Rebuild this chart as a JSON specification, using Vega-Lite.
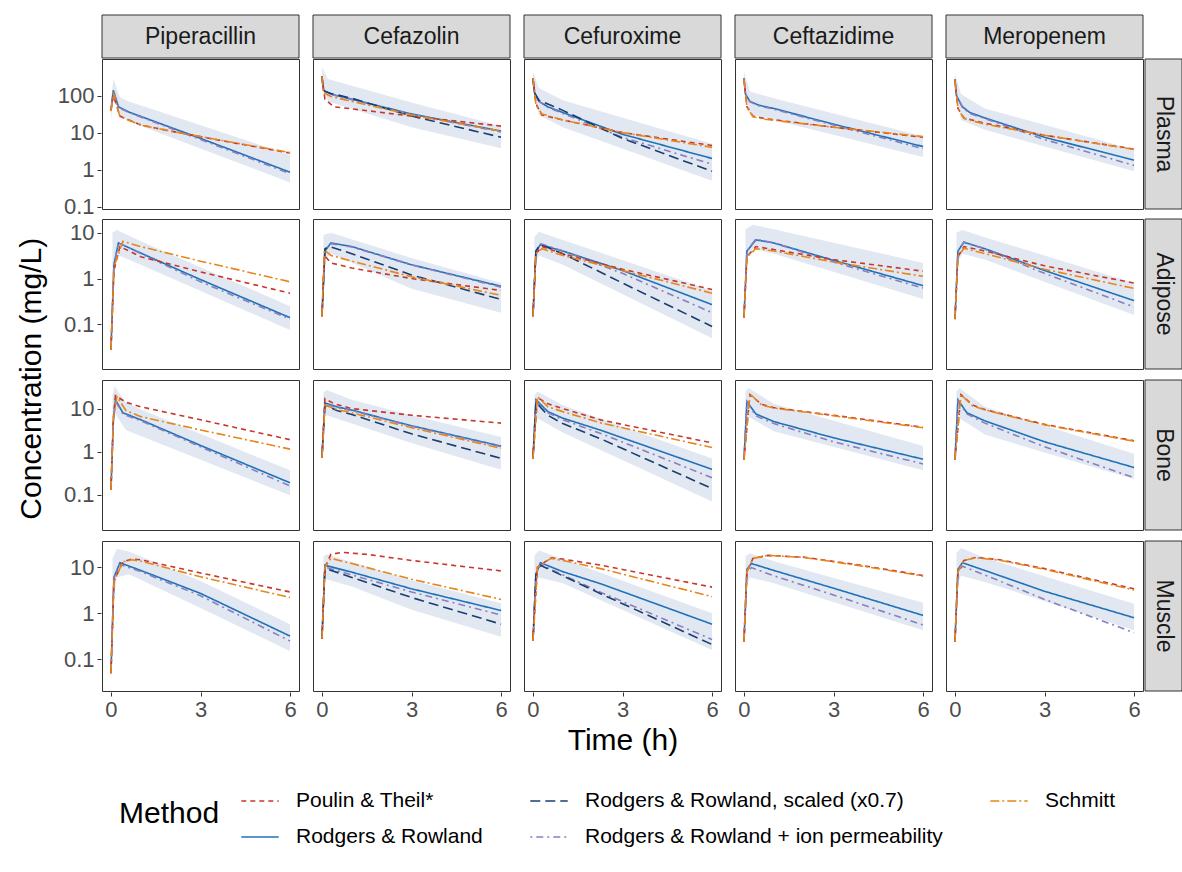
{
"$schema":"https://vega.github.io/schema/vega-lite/v6.json",
"background":"white",
"padding":{"left":17,"top":14,"right":2,"bottom":4},
"title":{"text":"Concentration (mg/L)","orient":"left","anchor":"middle","fontSize":30,"fontWeight":"normal","color":"#000000","offset":10,"dx":52},
"config":{
 "font":"Liberation Sans",
 "view":{"stroke":"#333333","strokeWidth":1},
 "axis":{"grid":false,"domain":false,"ticks":true,"tickColor":"#333333","tickSize":4,"tickWidth":1,"labelColor":"#4d4d4d","labelFontSize":22,"labelPadding":3,"titleFontSize":30,"titleFontWeight":"normal","titleColor":"#000000"},
 "legend":{"orient":"none","legendX":17,"legendY":766,"direction":"horizontal","columns":3,"titleOrient":"left","titleAnchor":"middle","titleFontSize":30,"titleFontWeight":"normal","titleColor":"#000000","titlePadding":20,"labelFontSize":21,"labelLimit":600,"labelColor":"#000000","symbolType":"stroke","symbolSize":1400,"symbolStrokeWidth":1.6,"columnPadding":44,"rowPadding":6,"labelOffset":16}
},
"datasets":{"c":[
{"d":"Pip","t":"Pl","m":"R","x":0,"y":40},{"d":"Pip","t":"Pl","m":"R","x":0.08,"y":140},{"d":"Pip","t":"Pl","m":"R","x":0.25,"y":50},{"d":"Pip","t":"Pl","m":"R","x":0.6,"y":36},{"d":"Pip","t":"Pl","m":"R","x":3,"y":7},{"d":"Pip","t":"Pl","m":"R","x":6,"y":0.85},
{"d":"Pip","t":"Pl","m":"I","x":0,"y":40},{"d":"Pip","t":"Pl","m":"I","x":0.08,"y":135},{"d":"Pip","t":"Pl","m":"I","x":0.25,"y":48},{"d":"Pip","t":"Pl","m":"I","x":0.6,"y":35},{"d":"Pip","t":"Pl","m":"I","x":3,"y":6.5},{"d":"Pip","t":"Pl","m":"I","x":6,"y":0.78},
{"d":"Pip","t":"Pl","m":"P","x":0,"y":40},{"d":"Pip","t":"Pl","m":"P","x":0.08,"y":100},{"d":"Pip","t":"Pl","m":"P","x":0.3,"y":28},{"d":"Pip","t":"Pl","m":"P","x":1,"y":16},{"d":"Pip","t":"Pl","m":"P","x":2,"y":11},{"d":"Pip","t":"Pl","m":"P","x":4,"y":5.5},{"d":"Pip","t":"Pl","m":"P","x":6,"y":2.8},
{"d":"Pip","t":"Pl","m":"M","x":0,"y":38},{"d":"Pip","t":"Pl","m":"M","x":0.08,"y":120},{"d":"Pip","t":"Pl","m":"M","x":0.3,"y":27},{"d":"Pip","t":"Pl","m":"M","x":1,"y":16},{"d":"Pip","t":"Pl","m":"M","x":2,"y":11},{"d":"Pip","t":"Pl","m":"M","x":4,"y":5.6},{"d":"Pip","t":"Pl","m":"M","x":6,"y":2.9},
{"d":"Pip","t":"Pl","m":"B","x":0,"lo":20,"hi":70},{"d":"Pip","t":"Pl","m":"B","x":0.08,"lo":100,"hi":280},{"d":"Pip","t":"Pl","m":"B","x":0.3,"lo":28,"hi":90},{"d":"Pip","t":"Pl","m":"B","x":0.6,"lo":20,"hi":70},{"d":"Pip","t":"Pl","m":"B","x":6,"lo":0.45,"hi":2.5},

{"d":"Cfz","t":"Pl","m":"R","x":0,"y":330},{"d":"Cfz","t":"Pl","m":"R","x":0.05,"y":140},{"d":"Cfz","t":"Pl","m":"R","x":0.3,"y":110},{"d":"Cfz","t":"Pl","m":"R","x":1,"y":80},{"d":"Cfz","t":"Pl","m":"R","x":3,"y":32},{"d":"Cfz","t":"Pl","m":"R","x":6,"y":11},
{"d":"Cfz","t":"Pl","m":"I","x":0,"y":330},{"d":"Cfz","t":"Pl","m":"I","x":0.05,"y":138},{"d":"Cfz","t":"Pl","m":"I","x":0.3,"y":108},{"d":"Cfz","t":"Pl","m":"I","x":1,"y":78},{"d":"Cfz","t":"Pl","m":"I","x":3,"y":31},{"d":"Cfz","t":"Pl","m":"I","x":6,"y":10.5},
{"d":"Cfz","t":"Pl","m":"S","x":0,"y":330},{"d":"Cfz","t":"Pl","m":"S","x":0.05,"y":135},{"d":"Cfz","t":"Pl","m":"S","x":0.3,"y":115},{"d":"Cfz","t":"Pl","m":"S","x":1,"y":85},{"d":"Cfz","t":"Pl","m":"S","x":3,"y":28},{"d":"Cfz","t":"Pl","m":"S","x":6,"y":7.5},
{"d":"Cfz","t":"Pl","m":"P","x":0,"y":330},{"d":"Cfz","t":"Pl","m":"P","x":0.1,"y":80},{"d":"Cfz","t":"Pl","m":"P","x":0.4,"y":50},{"d":"Cfz","t":"Pl","m":"P","x":1,"y":44},{"d":"Cfz","t":"Pl","m":"P","x":3,"y":28},{"d":"Cfz","t":"Pl","m":"P","x":6,"y":15},
{"d":"Cfz","t":"Pl","m":"M","x":0,"y":330},{"d":"Cfz","t":"Pl","m":"M","x":0.05,"y":120},{"d":"Cfz","t":"Pl","m":"M","x":0.3,"y":95},{"d":"Cfz","t":"Pl","m":"M","x":1,"y":70},{"d":"Cfz","t":"Pl","m":"M","x":3,"y":30},{"d":"Cfz","t":"Pl","m":"M","x":6,"y":11},
{"d":"Cfz","t":"Pl","m":"B","x":0,"lo":200,"hi":600},{"d":"Cfz","t":"Pl","m":"B","x":0.2,"lo":70,"hi":280},{"d":"Cfz","t":"Pl","m":"B","x":3,"lo":14,"hi":65},{"d":"Cfz","t":"Pl","m":"B","x":6,"lo":3.8,"hi":15},

{"d":"Cfx","t":"Pl","m":"R","x":0,"y":300},{"d":"Cfx","t":"Pl","m":"R","x":0.05,"y":120},{"d":"Cfx","t":"Pl","m":"R","x":0.2,"y":70},{"d":"Cfx","t":"Pl","m":"R","x":0.5,"y":50},{"d":"Cfx","t":"Pl","m":"R","x":1,"y":35},{"d":"Cfx","t":"Pl","m":"R","x":3,"y":9},{"d":"Cfx","t":"Pl","m":"R","x":6,"y":2.0},
{"d":"Cfx","t":"Pl","m":"I","x":0,"y":300},{"d":"Cfx","t":"Pl","m":"I","x":0.05,"y":120},{"d":"Cfx","t":"Pl","m":"I","x":0.2,"y":70},{"d":"Cfx","t":"Pl","m":"I","x":0.5,"y":48},{"d":"Cfx","t":"Pl","m":"I","x":1,"y":33},{"d":"Cfx","t":"Pl","m":"I","x":3,"y":7.5},{"d":"Cfx","t":"Pl","m":"I","x":6,"y":1.4},
{"d":"Cfx","t":"Pl","m":"S","x":0,"y":300},{"d":"Cfx","t":"Pl","m":"S","x":0.05,"y":120},{"d":"Cfx","t":"Pl","m":"S","x":0.2,"y":75},{"d":"Cfx","t":"Pl","m":"S","x":0.6,"y":55},{"d":"Cfx","t":"Pl","m":"S","x":1,"y":40},{"d":"Cfx","t":"Pl","m":"S","x":3,"y":7},{"d":"Cfx","t":"Pl","m":"S","x":6,"y":0.9},
{"d":"Cfx","t":"Pl","m":"P","x":0,"y":300},{"d":"Cfx","t":"Pl","m":"P","x":0.1,"y":60},{"d":"Cfx","t":"Pl","m":"P","x":0.3,"y":30},{"d":"Cfx","t":"Pl","m":"P","x":1,"y":22},{"d":"Cfx","t":"Pl","m":"P","x":3,"y":10},{"d":"Cfx","t":"Pl","m":"P","x":6,"y":4.5},
{"d":"Cfx","t":"Pl","m":"M","x":0,"y":300},{"d":"Cfx","t":"Pl","m":"M","x":0.1,"y":55},{"d":"Cfx","t":"Pl","m":"M","x":0.3,"y":32},{"d":"Cfx","t":"Pl","m":"M","x":1,"y":22},{"d":"Cfx","t":"Pl","m":"M","x":3,"y":10},{"d":"Cfx","t":"Pl","m":"M","x":6,"y":4.0},
{"d":"Cfx","t":"Pl","m":"B","x":0,"lo":150,"hi":450},{"d":"Cfx","t":"Pl","m":"B","x":0.2,"lo":30,"hi":160},{"d":"Cfx","t":"Pl","m":"B","x":1,"lo":14,"hi":75},{"d":"Cfx","t":"Pl","m":"B","x":6,"lo":0.5,"hi":5},

{"d":"Ctz","t":"Pl","m":"R","x":0,"y":300},{"d":"Ctz","t":"Pl","m":"R","x":0.05,"y":110},{"d":"Ctz","t":"Pl","m":"R","x":0.2,"y":70},{"d":"Ctz","t":"Pl","m":"R","x":0.5,"y":55},{"d":"Ctz","t":"Pl","m":"R","x":1,"y":45},{"d":"Ctz","t":"Pl","m":"R","x":3,"y":17},{"d":"Ctz","t":"Pl","m":"R","x":6,"y":4.2},
{"d":"Ctz","t":"Pl","m":"I","x":0,"y":300},{"d":"Ctz","t":"Pl","m":"I","x":0.05,"y":110},{"d":"Ctz","t":"Pl","m":"I","x":0.2,"y":68},{"d":"Ctz","t":"Pl","m":"I","x":0.5,"y":53},{"d":"Ctz","t":"Pl","m":"I","x":1,"y":43},{"d":"Ctz","t":"Pl","m":"I","x":3,"y":16},{"d":"Ctz","t":"Pl","m":"I","x":6,"y":3.7},
{"d":"Ctz","t":"Pl","m":"P","x":0,"y":280},{"d":"Ctz","t":"Pl","m":"P","x":0.1,"y":50},{"d":"Ctz","t":"Pl","m":"P","x":0.3,"y":28},{"d":"Ctz","t":"Pl","m":"P","x":0.7,"y":24},{"d":"Ctz","t":"Pl","m":"P","x":3,"y":14},{"d":"Ctz","t":"Pl","m":"P","x":6,"y":7.5},
{"d":"Ctz","t":"Pl","m":"M","x":0,"y":280},{"d":"Ctz","t":"Pl","m":"M","x":0.1,"y":50},{"d":"Ctz","t":"Pl","m":"M","x":0.3,"y":27},{"d":"Ctz","t":"Pl","m":"M","x":0.7,"y":23},{"d":"Ctz","t":"Pl","m":"M","x":3,"y":14},{"d":"Ctz","t":"Pl","m":"M","x":6,"y":7.8},
{"d":"Ctz","t":"Pl","m":"B","x":0,"lo":180,"hi":450},{"d":"Ctz","t":"Pl","m":"B","x":0.2,"lo":32,"hi":130},{"d":"Ctz","t":"Pl","m":"B","x":1,"lo":22,"hi":85},{"d":"Ctz","t":"Pl","m":"B","x":6,"lo":2.2,"hi":8},

{"d":"Mer","t":"Pl","m":"R","x":0,"y":280},{"d":"Mer","t":"Pl","m":"R","x":0.05,"y":100},{"d":"Mer","t":"Pl","m":"R","x":0.25,"y":50},{"d":"Mer","t":"Pl","m":"R","x":0.5,"y":35},{"d":"Mer","t":"Pl","m":"R","x":1,"y":25},{"d":"Mer","t":"Pl","m":"R","x":3,"y":7.5},{"d":"Mer","t":"Pl","m":"R","x":6,"y":1.8},
{"d":"Mer","t":"Pl","m":"I","x":0,"y":280},{"d":"Mer","t":"Pl","m":"I","x":0.05,"y":100},{"d":"Mer","t":"Pl","m":"I","x":0.25,"y":48},{"d":"Mer","t":"Pl","m":"I","x":0.5,"y":33},{"d":"Mer","t":"Pl","m":"I","x":1,"y":24},{"d":"Mer","t":"Pl","m":"I","x":3,"y":6.5},{"d":"Mer","t":"Pl","m":"I","x":6,"y":1.3},
{"d":"Mer","t":"Pl","m":"P","x":0,"y":260},{"d":"Mer","t":"Pl","m":"P","x":0.1,"y":45},{"d":"Mer","t":"Pl","m":"P","x":0.3,"y":25},{"d":"Mer","t":"Pl","m":"P","x":1,"y":18},{"d":"Mer","t":"Pl","m":"P","x":3,"y":8.5},{"d":"Mer","t":"Pl","m":"P","x":6,"y":3.6},
{"d":"Mer","t":"Pl","m":"M","x":0,"y":260},{"d":"Mer","t":"Pl","m":"M","x":0.1,"y":45},{"d":"Mer","t":"Pl","m":"M","x":0.3,"y":24},{"d":"Mer","t":"Pl","m":"M","x":1,"y":17},{"d":"Mer","t":"Pl","m":"M","x":3,"y":8.5},{"d":"Mer","t":"Pl","m":"M","x":6,"y":3.5},
{"d":"Mer","t":"Pl","m":"B","x":0,"lo":150,"hi":400},{"d":"Mer","t":"Pl","m":"B","x":0.2,"lo":22,"hi":110},{"d":"Mer","t":"Pl","m":"B","x":1,"lo":12,"hi":45},{"d":"Mer","t":"Pl","m":"B","x":6,"lo":0.9,"hi":3.5},

{"d":"Pip","t":"Ad","m":"R","x":0,"y":0.028},{"d":"Pip","t":"Ad","m":"R","x":0.1,"y":2},{"d":"Pip","t":"Ad","m":"R","x":0.25,"y":6},{"d":"Pip","t":"Ad","m":"R","x":1,"y":3.6},{"d":"Pip","t":"Ad","m":"R","x":3,"y":0.95},{"d":"Pip","t":"Ad","m":"R","x":6,"y":0.14},
{"d":"Pip","t":"Ad","m":"I","x":0,"y":0.028},{"d":"Pip","t":"Ad","m":"I","x":0.1,"y":2},{"d":"Pip","t":"Ad","m":"I","x":0.25,"y":6},{"d":"Pip","t":"Ad","m":"I","x":1,"y":3.5},{"d":"Pip","t":"Ad","m":"I","x":3,"y":0.85},{"d":"Pip","t":"Ad","m":"I","x":6,"y":0.13},
{"d":"Pip","t":"Ad","m":"P","x":0,"y":0.028},{"d":"Pip","t":"Ad","m":"P","x":0.1,"y":1.5},{"d":"Pip","t":"Ad","m":"P","x":0.3,"y":5},{"d":"Pip","t":"Ad","m":"P","x":1,"y":3},{"d":"Pip","t":"Ad","m":"P","x":3,"y":1.4},{"d":"Pip","t":"Ad","m":"P","x":6,"y":0.48},
{"d":"Pip","t":"Ad","m":"M","x":0,"y":0.028},{"d":"Pip","t":"Ad","m":"M","x":0.1,"y":1.8},{"d":"Pip","t":"Ad","m":"M","x":0.4,"y":6.5},{"d":"Pip","t":"Ad","m":"M","x":1,"y":5},{"d":"Pip","t":"Ad","m":"M","x":3,"y":2.4},{"d":"Pip","t":"Ad","m":"M","x":6,"y":0.85},
{"d":"Pip","t":"Ad","m":"B","x":0.05,"lo":1.2,"hi":10},{"d":"Pip","t":"Ad","m":"B","x":0.2,"lo":3.3,"hi":11.5},{"d":"Pip","t":"Ad","m":"B","x":1,"lo":2,"hi":6.5},{"d":"Pip","t":"Ad","m":"B","x":6,"lo":0.075,"hi":0.25},

{"d":"Cfz","t":"Ad","m":"R","x":0,"y":0.15},{"d":"Cfz","t":"Ad","m":"R","x":0.1,"y":4},{"d":"Cfz","t":"Ad","m":"R","x":0.3,"y":6},{"d":"Cfz","t":"Ad","m":"R","x":1,"y":5},{"d":"Cfz","t":"Ad","m":"R","x":3,"y":2},{"d":"Cfz","t":"Ad","m":"R","x":6,"y":0.68},
{"d":"Cfz","t":"Ad","m":"I","x":0,"y":0.15},{"d":"Cfz","t":"Ad","m":"I","x":0.1,"y":4},{"d":"Cfz","t":"Ad","m":"I","x":0.3,"y":5.8},{"d":"Cfz","t":"Ad","m":"I","x":1,"y":4.9},{"d":"Cfz","t":"Ad","m":"I","x":3,"y":2},{"d":"Cfz","t":"Ad","m":"I","x":6,"y":0.65},
{"d":"Cfz","t":"Ad","m":"S","x":0,"y":0.15},{"d":"Cfz","t":"Ad","m":"S","x":0.1,"y":4.5},{"d":"Cfz","t":"Ad","m":"S","x":0.25,"y":5},{"d":"Cfz","t":"Ad","m":"S","x":1,"y":3.5},{"d":"Cfz","t":"Ad","m":"S","x":3,"y":1.2},{"d":"Cfz","t":"Ad","m":"S","x":6,"y":0.35},
{"d":"Cfz","t":"Ad","m":"P","x":0,"y":0.15},{"d":"Cfz","t":"Ad","m":"P","x":0.08,"y":3.2},{"d":"Cfz","t":"Ad","m":"P","x":0.3,"y":2.2},{"d":"Cfz","t":"Ad","m":"P","x":1,"y":1.7},{"d":"Cfz","t":"Ad","m":"P","x":3,"y":1.0},{"d":"Cfz","t":"Ad","m":"P","x":6,"y":0.55},
{"d":"Cfz","t":"Ad","m":"M","x":0,"y":0.15},{"d":"Cfz","t":"Ad","m":"M","x":0.08,"y":4.2},{"d":"Cfz","t":"Ad","m":"M","x":0.3,"y":3.2},{"d":"Cfz","t":"Ad","m":"M","x":1,"y":2.4},{"d":"Cfz","t":"Ad","m":"M","x":3,"y":1.1},{"d":"Cfz","t":"Ad","m":"M","x":6,"y":0.43},
{"d":"Cfz","t":"Ad","m":"B","x":0.05,"lo":2.5,"hi":9},{"d":"Cfz","t":"Ad","m":"B","x":0.3,"lo":3.5,"hi":10},{"d":"Cfz","t":"Ad","m":"B","x":3,"lo":0.6,"hi":2.8},{"d":"Cfz","t":"Ad","m":"B","x":6,"lo":0.18,"hi":0.8},

{"d":"Cfx","t":"Ad","m":"R","x":0,"y":0.15},{"d":"Cfx","t":"Ad","m":"R","x":0.1,"y":4},{"d":"Cfx","t":"Ad","m":"R","x":0.25,"y":5.5},{"d":"Cfx","t":"Ad","m":"R","x":1,"y":4},{"d":"Cfx","t":"Ad","m":"R","x":3,"y":1.5},{"d":"Cfx","t":"Ad","m":"R","x":6,"y":0.27},
{"d":"Cfx","t":"Ad","m":"I","x":0,"y":0.15},{"d":"Cfx","t":"Ad","m":"I","x":0.1,"y":4},{"d":"Cfx","t":"Ad","m":"I","x":0.25,"y":5.8},{"d":"Cfx","t":"Ad","m":"I","x":1,"y":4},{"d":"Cfx","t":"Ad","m":"I","x":3,"y":1.3},{"d":"Cfx","t":"Ad","m":"I","x":6,"y":0.18},
{"d":"Cfx","t":"Ad","m":"S","x":0,"y":0.15},{"d":"Cfx","t":"Ad","m":"S","x":0.1,"y":4},{"d":"Cfx","t":"Ad","m":"S","x":0.25,"y":5.5},{"d":"Cfx","t":"Ad","m":"S","x":1,"y":3.5},{"d":"Cfx","t":"Ad","m":"S","x":3,"y":0.8},{"d":"Cfx","t":"Ad","m":"S","x":6,"y":0.09},
{"d":"Cfx","t":"Ad","m":"P","x":0,"y":0.15},{"d":"Cfx","t":"Ad","m":"P","x":0.1,"y":3.5},{"d":"Cfx","t":"Ad","m":"P","x":0.3,"y":5},{"d":"Cfx","t":"Ad","m":"P","x":1,"y":3.5},{"d":"Cfx","t":"Ad","m":"P","x":3,"y":1.6},{"d":"Cfx","t":"Ad","m":"P","x":6,"y":0.58},
{"d":"Cfx","t":"Ad","m":"M","x":0,"y":0.15},{"d":"Cfx","t":"Ad","m":"M","x":0.1,"y":3.5},{"d":"Cfx","t":"Ad","m":"M","x":0.3,"y":4.5},{"d":"Cfx","t":"Ad","m":"M","x":1,"y":3.2},{"d":"Cfx","t":"Ad","m":"M","x":3,"y":1.5},{"d":"Cfx","t":"Ad","m":"M","x":6,"y":0.48},
{"d":"Cfx","t":"Ad","m":"B","x":0.05,"lo":2,"hi":8},{"d":"Cfx","t":"Ad","m":"B","x":0.2,"lo":3.2,"hi":10.5},{"d":"Cfx","t":"Ad","m":"B","x":1,"lo":2,"hi":7},{"d":"Cfx","t":"Ad","m":"B","x":6,"lo":0.05,"hi":0.55},

{"d":"Ctz","t":"Ad","m":"R","x":0,"y":0.14},{"d":"Ctz","t":"Ad","m":"R","x":0.1,"y":4},{"d":"Ctz","t":"Ad","m":"R","x":0.4,"y":7},{"d":"Ctz","t":"Ad","m":"R","x":1,"y":6},{"d":"Ctz","t":"Ad","m":"R","x":3,"y":2.5},{"d":"Ctz","t":"Ad","m":"R","x":6,"y":0.7},
{"d":"Ctz","t":"Ad","m":"I","x":0,"y":0.14},{"d":"Ctz","t":"Ad","m":"I","x":0.1,"y":4},{"d":"Ctz","t":"Ad","m":"I","x":0.4,"y":7.3},{"d":"Ctz","t":"Ad","m":"I","x":1,"y":6},{"d":"Ctz","t":"Ad","m":"I","x":3,"y":2.3},{"d":"Ctz","t":"Ad","m":"I","x":6,"y":0.62},
{"d":"Ctz","t":"Ad","m":"P","x":0,"y":0.14},{"d":"Ctz","t":"Ad","m":"P","x":0.1,"y":3},{"d":"Ctz","t":"Ad","m":"P","x":0.4,"y":5},{"d":"Ctz","t":"Ad","m":"P","x":1,"y":4.3},{"d":"Ctz","t":"Ad","m":"P","x":3,"y":2.6},{"d":"Ctz","t":"Ad","m":"P","x":6,"y":1.45},
{"d":"Ctz","t":"Ad","m":"M","x":0,"y":0.14},{"d":"Ctz","t":"Ad","m":"M","x":0.1,"y":3},{"d":"Ctz","t":"Ad","m":"M","x":0.4,"y":4.5},{"d":"Ctz","t":"Ad","m":"M","x":1,"y":4},{"d":"Ctz","t":"Ad","m":"M","x":3,"y":2.3},{"d":"Ctz","t":"Ad","m":"M","x":6,"y":1.12},
{"d":"Ctz","t":"Ad","m":"B","x":0.05,"lo":2.5,"hi":12},{"d":"Ctz","t":"Ad","m":"B","x":0.3,"lo":4.5,"hi":15},{"d":"Ctz","t":"Ad","m":"B","x":1,"lo":3.5,"hi":12},{"d":"Ctz","t":"Ad","m":"B","x":6,"lo":0.36,"hi":2.2},

{"d":"Mer","t":"Ad","m":"R","x":0,"y":0.13},{"d":"Mer","t":"Ad","m":"R","x":0.1,"y":4},{"d":"Mer","t":"Ad","m":"R","x":0.3,"y":6.2},{"d":"Mer","t":"Ad","m":"R","x":1,"y":4.5},{"d":"Mer","t":"Ad","m":"R","x":3,"y":1.5},{"d":"Mer","t":"Ad","m":"R","x":6,"y":0.33},
{"d":"Mer","t":"Ad","m":"I","x":0,"y":0.13},{"d":"Mer","t":"Ad","m":"I","x":0.1,"y":4},{"d":"Mer","t":"Ad","m":"I","x":0.3,"y":6.3},{"d":"Mer","t":"Ad","m":"I","x":1,"y":4.4},{"d":"Mer","t":"Ad","m":"I","x":3,"y":1.3},{"d":"Mer","t":"Ad","m":"I","x":6,"y":0.24},
{"d":"Mer","t":"Ad","m":"P","x":0,"y":0.13},{"d":"Mer","t":"Ad","m":"P","x":0.1,"y":3},{"d":"Mer","t":"Ad","m":"P","x":0.3,"y":5},{"d":"Mer","t":"Ad","m":"P","x":1,"y":4},{"d":"Mer","t":"Ad","m":"P","x":3,"y":1.9},{"d":"Mer","t":"Ad","m":"P","x":6,"y":0.8},
{"d":"Mer","t":"Ad","m":"M","x":0,"y":0.13},{"d":"Mer","t":"Ad","m":"M","x":0.1,"y":3},{"d":"Mer","t":"Ad","m":"M","x":0.3,"y":4.6},{"d":"Mer","t":"Ad","m":"M","x":1,"y":3.5},{"d":"Mer","t":"Ad","m":"M","x":3,"y":1.6},{"d":"Mer","t":"Ad","m":"M","x":6,"y":0.61},
{"d":"Mer","t":"Ad","m":"B","x":0.05,"lo":2,"hi":10},{"d":"Mer","t":"Ad","m":"B","x":0.25,"lo":3.5,"hi":11.5},{"d":"Mer","t":"Ad","m":"B","x":1,"lo":2.6,"hi":8},{"d":"Mer","t":"Ad","m":"B","x":6,"lo":0.16,"hi":0.8},

{"d":"Pip","t":"Bo","m":"R","x":0,"y":0.13},{"d":"Pip","t":"Bo","m":"R","x":0.08,"y":5},{"d":"Pip","t":"Bo","m":"R","x":0.15,"y":16},{"d":"Pip","t":"Bo","m":"R","x":0.4,"y":8},{"d":"Pip","t":"Bo","m":"R","x":1,"y":5.5},{"d":"Pip","t":"Bo","m":"R","x":3,"y":1.4},{"d":"Pip","t":"Bo","m":"R","x":6,"y":0.19},
{"d":"Pip","t":"Bo","m":"I","x":0,"y":0.13},{"d":"Pip","t":"Bo","m":"I","x":0.08,"y":5},{"d":"Pip","t":"Bo","m":"I","x":0.15,"y":15},{"d":"Pip","t":"Bo","m":"I","x":0.4,"y":7.5},{"d":"Pip","t":"Bo","m":"I","x":1,"y":5.2},{"d":"Pip","t":"Bo","m":"I","x":3,"y":1.3},{"d":"Pip","t":"Bo","m":"I","x":6,"y":0.16},
{"d":"Pip","t":"Bo","m":"P","x":0,"y":0.13},{"d":"Pip","t":"Bo","m":"P","x":0.08,"y":6},{"d":"Pip","t":"Bo","m":"P","x":0.15,"y":20},{"d":"Pip","t":"Bo","m":"P","x":0.5,"y":14},{"d":"Pip","t":"Bo","m":"P","x":1,"y":11},{"d":"Pip","t":"Bo","m":"P","x":3,"y":5.5},{"d":"Pip","t":"Bo","m":"P","x":6,"y":1.9},
{"d":"Pip","t":"Bo","m":"M","x":0,"y":0.13},{"d":"Pip","t":"Bo","m":"M","x":0.08,"y":6},{"d":"Pip","t":"Bo","m":"M","x":0.2,"y":19},{"d":"Pip","t":"Bo","m":"M","x":0.5,"y":9},{"d":"Pip","t":"Bo","m":"M","x":1,"y":6.5},{"d":"Pip","t":"Bo","m":"M","x":3,"y":3.2},{"d":"Pip","t":"Bo","m":"M","x":6,"y":1.15},
{"d":"Pip","t":"Bo","m":"B","x":0.05,"lo":2,"hi":20},{"d":"Pip","t":"Bo","m":"B","x":0.12,"lo":8,"hi":33},{"d":"Pip","t":"Bo","m":"B","x":0.5,"lo":3.2,"hi":14},{"d":"Pip","t":"Bo","m":"B","x":1,"lo":2.3,"hi":9.5},{"d":"Pip","t":"Bo","m":"B","x":6,"lo":0.098,"hi":0.37},

{"d":"Cfz","t":"Bo","m":"R","x":0,"y":0.74},{"d":"Cfz","t":"Bo","m":"R","x":0.1,"y":13.5},{"d":"Cfz","t":"Bo","m":"R","x":0.5,"y":11},{"d":"Cfz","t":"Bo","m":"R","x":1,"y":9.2},{"d":"Cfz","t":"Bo","m":"R","x":3,"y":4},{"d":"Cfz","t":"Bo","m":"R","x":6,"y":1.35},
{"d":"Cfz","t":"Bo","m":"I","x":0,"y":0.74},{"d":"Cfz","t":"Bo","m":"I","x":0.1,"y":13},{"d":"Cfz","t":"Bo","m":"I","x":0.5,"y":10.5},{"d":"Cfz","t":"Bo","m":"I","x":1,"y":9},{"d":"Cfz","t":"Bo","m":"I","x":3,"y":3.9},{"d":"Cfz","t":"Bo","m":"I","x":6,"y":1.3},
{"d":"Cfz","t":"Bo","m":"S","x":0,"y":0.74},{"d":"Cfz","t":"Bo","m":"S","x":0.1,"y":12},{"d":"Cfz","t":"Bo","m":"S","x":0.5,"y":9},{"d":"Cfz","t":"Bo","m":"S","x":1,"y":7.3},{"d":"Cfz","t":"Bo","m":"S","x":3,"y":2.6},{"d":"Cfz","t":"Bo","m":"S","x":6,"y":0.7},
{"d":"Cfz","t":"Bo","m":"P","x":0,"y":0.74},{"d":"Cfz","t":"Bo","m":"P","x":0.1,"y":17},{"d":"Cfz","t":"Bo","m":"P","x":0.4,"y":13},{"d":"Cfz","t":"Bo","m":"P","x":1,"y":10},{"d":"Cfz","t":"Bo","m":"P","x":3,"y":7},{"d":"Cfz","t":"Bo","m":"P","x":6,"y":4.6},
{"d":"Cfz","t":"Bo","m":"M","x":0,"y":0.74},{"d":"Cfz","t":"Bo","m":"M","x":0.1,"y":12},{"d":"Cfz","t":"Bo","m":"M","x":0.5,"y":9.5},{"d":"Cfz","t":"Bo","m":"M","x":1,"y":8},{"d":"Cfz","t":"Bo","m":"M","x":3,"y":3.6},{"d":"Cfz","t":"Bo","m":"M","x":6,"y":1.2},
{"d":"Cfz","t":"Bo","m":"B","x":0.05,"lo":6,"hi":24},{"d":"Cfz","t":"Bo","m":"B","x":0.15,"lo":7,"hi":27},{"d":"Cfz","t":"Bo","m":"B","x":1,"lo":4.5,"hi":16},{"d":"Cfz","t":"Bo","m":"B","x":3,"lo":1.6,"hi":7},{"d":"Cfz","t":"Bo","m":"B","x":6,"lo":0.38,"hi":2.2},

{"d":"Cfx","t":"Bo","m":"R","x":0,"y":0.7},{"d":"Cfx","t":"Bo","m":"R","x":0.1,"y":16},{"d":"Cfx","t":"Bo","m":"R","x":0.5,"y":8.5},{"d":"Cfx","t":"Bo","m":"R","x":1,"y":6},{"d":"Cfx","t":"Bo","m":"R","x":2.3,"y":3.1},{"d":"Cfx","t":"Bo","m":"R","x":6,"y":0.39},
{"d":"Cfx","t":"Bo","m":"I","x":0,"y":0.7},{"d":"Cfx","t":"Bo","m":"I","x":0.1,"y":15},{"d":"Cfx","t":"Bo","m":"I","x":0.5,"y":8},{"d":"Cfx","t":"Bo","m":"I","x":1,"y":5.5},{"d":"Cfx","t":"Bo","m":"I","x":2.3,"y":2.6},{"d":"Cfx","t":"Bo","m":"I","x":6,"y":0.25},
{"d":"Cfx","t":"Bo","m":"S","x":0,"y":0.7},{"d":"Cfx","t":"Bo","m":"S","x":0.1,"y":14},{"d":"Cfx","t":"Bo","m":"S","x":0.5,"y":7},{"d":"Cfx","t":"Bo","m":"S","x":1,"y":4.5},{"d":"Cfx","t":"Bo","m":"S","x":2.3,"y":1.95},{"d":"Cfx","t":"Bo","m":"S","x":6,"y":0.14},
{"d":"Cfx","t":"Bo","m":"P","x":0,"y":0.7},{"d":"Cfx","t":"Bo","m":"P","x":0.15,"y":18},{"d":"Cfx","t":"Bo","m":"P","x":0.5,"y":13},{"d":"Cfx","t":"Bo","m":"P","x":1,"y":10},{"d":"Cfx","t":"Bo","m":"P","x":2.3,"y":5.4},{"d":"Cfx","t":"Bo","m":"P","x":6,"y":1.6},
{"d":"Cfx","t":"Bo","m":"M","x":0,"y":0.7},{"d":"Cfx","t":"Bo","m":"M","x":0.15,"y":19},{"d":"Cfx","t":"Bo","m":"M","x":0.5,"y":11},{"d":"Cfx","t":"Bo","m":"M","x":1,"y":8.5},{"d":"Cfx","t":"Bo","m":"M","x":2.3,"y":4.6},{"d":"Cfx","t":"Bo","m":"M","x":6,"y":1.25},
{"d":"Cfx","t":"Bo","m":"B","x":0.05,"lo":4,"hi":20},{"d":"Cfx","t":"Bo","m":"B","x":0.15,"lo":6,"hi":25},{"d":"Cfx","t":"Bo","m":"B","x":1,"lo":2.8,"hi":12},{"d":"Cfx","t":"Bo","m":"B","x":6,"lo":0.07,"hi":0.7},

{"d":"Ctz","t":"Bo","m":"R","x":0,"y":0.65},{"d":"Ctz","t":"Bo","m":"R","x":0.1,"y":14.5},{"d":"Ctz","t":"Bo","m":"R","x":0.4,"y":7.5},{"d":"Ctz","t":"Bo","m":"R","x":1,"y":5},{"d":"Ctz","t":"Bo","m":"R","x":3,"y":2.1},{"d":"Ctz","t":"Bo","m":"R","x":6,"y":0.67},
{"d":"Ctz","t":"Bo","m":"I","x":0,"y":0.65},{"d":"Ctz","t":"Bo","m":"I","x":0.1,"y":14},{"d":"Ctz","t":"Bo","m":"I","x":0.4,"y":6.8},{"d":"Ctz","t":"Bo","m":"I","x":1,"y":4.5},{"d":"Ctz","t":"Bo","m":"I","x":3,"y":1.7},{"d":"Ctz","t":"Bo","m":"I","x":6,"y":0.52},
{"d":"Ctz","t":"Bo","m":"P","x":0,"y":0.65},{"d":"Ctz","t":"Bo","m":"P","x":0.2,"y":21},{"d":"Ctz","t":"Bo","m":"P","x":0.6,"y":12.5},{"d":"Ctz","t":"Bo","m":"P","x":1,"y":10.5},{"d":"Ctz","t":"Bo","m":"P","x":3,"y":7},{"d":"Ctz","t":"Bo","m":"P","x":6,"y":3.7},
{"d":"Ctz","t":"Bo","m":"M","x":0,"y":0.65},{"d":"Ctz","t":"Bo","m":"M","x":0.2,"y":22},{"d":"Ctz","t":"Bo","m":"M","x":0.6,"y":12},{"d":"Ctz","t":"Bo","m":"M","x":1,"y":10.3},{"d":"Ctz","t":"Bo","m":"M","x":3,"y":6.8},{"d":"Ctz","t":"Bo","m":"M","x":6,"y":3.6},
{"d":"Ctz","t":"Bo","m":"B","x":0.05,"lo":5,"hi":25},{"d":"Ctz","t":"Bo","m":"B","x":0.15,"lo":6.5,"hi":30},{"d":"Ctz","t":"Bo","m":"B","x":1,"lo":3,"hi":13},{"d":"Ctz","t":"Bo","m":"B","x":6,"lo":0.37,"hi":1.35},

{"d":"Mer","t":"Bo","m":"R","x":0,"y":0.65},{"d":"Mer","t":"Bo","m":"R","x":0.1,"y":16},{"d":"Mer","t":"Bo","m":"R","x":0.4,"y":8},{"d":"Mer","t":"Bo","m":"R","x":1,"y":5.2},{"d":"Mer","t":"Bo","m":"R","x":3,"y":1.7},{"d":"Mer","t":"Bo","m":"R","x":6,"y":0.43},
{"d":"Mer","t":"Bo","m":"I","x":0,"y":0.65},{"d":"Mer","t":"Bo","m":"I","x":0.1,"y":15},{"d":"Mer","t":"Bo","m":"I","x":0.4,"y":7.5},{"d":"Mer","t":"Bo","m":"I","x":1,"y":4.6},{"d":"Mer","t":"Bo","m":"I","x":3,"y":1.3},{"d":"Mer","t":"Bo","m":"I","x":6,"y":0.25},
{"d":"Mer","t":"Bo","m":"P","x":0,"y":0.65},{"d":"Mer","t":"Bo","m":"P","x":0.2,"y":21},{"d":"Mer","t":"Bo","m":"P","x":0.6,"y":12},{"d":"Mer","t":"Bo","m":"P","x":1,"y":9.5},{"d":"Mer","t":"Bo","m":"P","x":3,"y":4.3},{"d":"Mer","t":"Bo","m":"P","x":6,"y":1.8},
{"d":"Mer","t":"Bo","m":"M","x":0,"y":0.65},{"d":"Mer","t":"Bo","m":"M","x":0.2,"y":21},{"d":"Mer","t":"Bo","m":"M","x":0.6,"y":11.5},{"d":"Mer","t":"Bo","m":"M","x":1,"y":9.3},{"d":"Mer","t":"Bo","m":"M","x":3,"y":4.2},{"d":"Mer","t":"Bo","m":"M","x":6,"y":1.75},
{"d":"Mer","t":"Bo","m":"B","x":0.05,"lo":4.5,"hi":25},{"d":"Mer","t":"Bo","m":"B","x":0.15,"lo":6,"hi":30},{"d":"Mer","t":"Bo","m":"B","x":1,"lo":2.5,"hi":11},{"d":"Mer","t":"Bo","m":"B","x":6,"lo":0.23,"hi":0.9},

{"d":"Pip","t":"Mu","m":"R","x":0,"y":0.05},{"d":"Pip","t":"Mu","m":"R","x":0.1,"y":6},{"d":"Pip","t":"Mu","m":"R","x":0.3,"y":12.5},{"d":"Pip","t":"Mu","m":"R","x":1,"y":8.5},{"d":"Pip","t":"Mu","m":"R","x":3,"y":2.7},{"d":"Pip","t":"Mu","m":"R","x":6,"y":0.32},
{"d":"Pip","t":"Mu","m":"I","x":0,"y":0.05},{"d":"Pip","t":"Mu","m":"I","x":0.1,"y":6},{"d":"Pip","t":"Mu","m":"I","x":0.3,"y":11.5},{"d":"Pip","t":"Mu","m":"I","x":1,"y":8},{"d":"Pip","t":"Mu","m":"I","x":3,"y":2.4},{"d":"Pip","t":"Mu","m":"I","x":6,"y":0.25},
{"d":"Pip","t":"Mu","m":"P","x":0,"y":0.05},{"d":"Pip","t":"Mu","m":"P","x":0.1,"y":5},{"d":"Pip","t":"Mu","m":"P","x":0.4,"y":13},{"d":"Pip","t":"Mu","m":"P","x":0.7,"y":15},{"d":"Pip","t":"Mu","m":"P","x":1,"y":14.5},{"d":"Pip","t":"Mu","m":"P","x":3,"y":7.5},{"d":"Pip","t":"Mu","m":"P","x":6,"y":2.9},
{"d":"Pip","t":"Mu","m":"M","x":0,"y":0.05},{"d":"Pip","t":"Mu","m":"M","x":0.1,"y":5},{"d":"Pip","t":"Mu","m":"M","x":0.4,"y":13},{"d":"Pip","t":"Mu","m":"M","x":0.7,"y":14.5},{"d":"Pip","t":"Mu","m":"M","x":1,"y":13.5},{"d":"Pip","t":"Mu","m":"M","x":3,"y":6.2},{"d":"Pip","t":"Mu","m":"M","x":6,"y":2.2},
{"d":"Pip","t":"Mu","m":"B","x":0.05,"lo":1.5,"hi":15},{"d":"Pip","t":"Mu","m":"B","x":0.2,"lo":6,"hi":25},{"d":"Pip","t":"Mu","m":"B","x":0.6,"lo":7,"hi":22},{"d":"Pip","t":"Mu","m":"B","x":3,"lo":1.3,"hi":5},{"d":"Pip","t":"Mu","m":"B","x":6,"lo":0.15,"hi":0.58},

{"d":"Cfz","t":"Mu","m":"R","x":0,"y":0.28},{"d":"Cfz","t":"Mu","m":"R","x":0.1,"y":11},{"d":"Cfz","t":"Mu","m":"R","x":1,"y":7.8},{"d":"Cfz","t":"Mu","m":"R","x":3,"y":3.4},{"d":"Cfz","t":"Mu","m":"R","x":6,"y":1.15},
{"d":"Cfz","t":"Mu","m":"I","x":0,"y":0.28},{"d":"Cfz","t":"Mu","m":"I","x":0.1,"y":10},{"d":"Cfz","t":"Mu","m":"I","x":1,"y":6.8},{"d":"Cfz","t":"Mu","m":"I","x":3,"y":2.9},{"d":"Cfz","t":"Mu","m":"I","x":6,"y":0.92},
{"d":"Cfz","t":"Mu","m":"S","x":0,"y":0.28},{"d":"Cfz","t":"Mu","m":"S","x":0.1,"y":9.5},{"d":"Cfz","t":"Mu","m":"S","x":1,"y":6},{"d":"Cfz","t":"Mu","m":"S","x":3,"y":2.2},{"d":"Cfz","t":"Mu","m":"S","x":6,"y":0.58},
{"d":"Cfz","t":"Mu","m":"P","x":0,"y":0.28},{"d":"Cfz","t":"Mu","m":"P","x":0.1,"y":10},{"d":"Cfz","t":"Mu","m":"P","x":0.3,"y":19},{"d":"Cfz","t":"Mu","m":"P","x":0.7,"y":21},{"d":"Cfz","t":"Mu","m":"P","x":1.5,"y":19},{"d":"Cfz","t":"Mu","m":"P","x":3,"y":14},{"d":"Cfz","t":"Mu","m":"P","x":6,"y":8.3},
{"d":"Cfz","t":"Mu","m":"M","x":0,"y":0.28},{"d":"Cfz","t":"Mu","m":"M","x":0.1,"y":10},{"d":"Cfz","t":"Mu","m":"M","x":0.3,"y":15.5},{"d":"Cfz","t":"Mu","m":"M","x":1,"y":12},{"d":"Cfz","t":"Mu","m":"M","x":3,"y":5.5},{"d":"Cfz","t":"Mu","m":"M","x":6,"y":2.0},
{"d":"Cfz","t":"Mu","m":"B","x":0.05,"lo":4,"hi":17},{"d":"Cfz","t":"Mu","m":"B","x":0.15,"lo":5.5,"hi":19},{"d":"Cfz","t":"Mu","m":"B","x":1,"lo":3.8,"hi":13},{"d":"Cfz","t":"Mu","m":"B","x":3,"lo":1.2,"hi":5.2},{"d":"Cfz","t":"Mu","m":"B","x":6,"lo":0.31,"hi":1.65},

{"d":"Cfx","t":"Mu","m":"R","x":0,"y":0.25},{"d":"Cfx","t":"Mu","m":"R","x":0.1,"y":7},{"d":"Cfx","t":"Mu","m":"R","x":0.25,"y":12.5},{"d":"Cfx","t":"Mu","m":"R","x":1,"y":8},{"d":"Cfx","t":"Mu","m":"R","x":2.3,"y":4.3},{"d":"Cfx","t":"Mu","m":"R","x":6,"y":0.58},
{"d":"Cfx","t":"Mu","m":"I","x":0,"y":0.25},{"d":"Cfx","t":"Mu","m":"I","x":0.1,"y":7},{"d":"Cfx","t":"Mu","m":"I","x":0.25,"y":11.5},{"d":"Cfx","t":"Mu","m":"I","x":1,"y":6.8},{"d":"Cfx","t":"Mu","m":"I","x":2.3,"y":2.8},{"d":"Cfx","t":"Mu","m":"I","x":6,"y":0.27},
{"d":"Cfx","t":"Mu","m":"S","x":0,"y":0.25},{"d":"Cfx","t":"Mu","m":"S","x":0.1,"y":7},{"d":"Cfx","t":"Mu","m":"S","x":0.25,"y":11},{"d":"Cfx","t":"Mu","m":"S","x":1,"y":6.5},{"d":"Cfx","t":"Mu","m":"S","x":2.3,"y":2.6},{"d":"Cfx","t":"Mu","m":"S","x":6,"y":0.21},
{"d":"Cfx","t":"Mu","m":"P","x":0,"y":0.25},{"d":"Cfx","t":"Mu","m":"P","x":0.15,"y":10},{"d":"Cfx","t":"Mu","m":"P","x":0.6,"y":16},{"d":"Cfx","t":"Mu","m":"P","x":1,"y":15},{"d":"Cfx","t":"Mu","m":"P","x":2.3,"y":11},{"d":"Cfx","t":"Mu","m":"P","x":6,"y":3.7},
{"d":"Cfx","t":"Mu","m":"M","x":0,"y":0.25},{"d":"Cfx","t":"Mu","m":"M","x":0.15,"y":10},{"d":"Cfx","t":"Mu","m":"M","x":0.6,"y":15.5},{"d":"Cfx","t":"Mu","m":"M","x":1,"y":14},{"d":"Cfx","t":"Mu","m":"M","x":2.3,"y":9.2},{"d":"Cfx","t":"Mu","m":"M","x":6,"y":2.3},
{"d":"Cfx","t":"Mu","m":"B","x":0.05,"lo":3,"hi":18},{"d":"Cfx","t":"Mu","m":"B","x":0.2,"lo":6,"hi":23},{"d":"Cfx","t":"Mu","m":"B","x":1,"lo":4.5,"hi":15},{"d":"Cfx","t":"Mu","m":"B","x":6,"lo":0.16,"hi":1},

{"d":"Ctz","t":"Mu","m":"R","x":0,"y":0.24},{"d":"Ctz","t":"Mu","m":"R","x":0.1,"y":9},{"d":"Ctz","t":"Mu","m":"R","x":0.25,"y":12},{"d":"Ctz","t":"Mu","m":"R","x":1,"y":8.5},{"d":"Ctz","t":"Mu","m":"R","x":3,"y":3.5},{"d":"Ctz","t":"Mu","m":"R","x":6,"y":0.9},
{"d":"Ctz","t":"Mu","m":"I","x":0,"y":0.24},{"d":"Ctz","t":"Mu","m":"I","x":0.1,"y":8},{"d":"Ctz","t":"Mu","m":"I","x":0.25,"y":9.8},{"d":"Ctz","t":"Mu","m":"I","x":1,"y":6.5},{"d":"Ctz","t":"Mu","m":"I","x":3,"y":2.5},{"d":"Ctz","t":"Mu","m":"I","x":6,"y":0.56},
{"d":"Ctz","t":"Mu","m":"P","x":0,"y":0.24},{"d":"Ctz","t":"Mu","m":"P","x":0.1,"y":8},{"d":"Ctz","t":"Mu","m":"P","x":0.3,"y":15.5},{"d":"Ctz","t":"Mu","m":"P","x":0.8,"y":18},{"d":"Ctz","t":"Mu","m":"P","x":2,"y":16.5},{"d":"Ctz","t":"Mu","m":"P","x":4,"y":10.8},{"d":"Ctz","t":"Mu","m":"P","x":6,"y":6.6},
{"d":"Ctz","t":"Mu","m":"M","x":0,"y":0.24},{"d":"Ctz","t":"Mu","m":"M","x":0.1,"y":8},{"d":"Ctz","t":"Mu","m":"M","x":0.3,"y":15.5},{"d":"Ctz","t":"Mu","m":"M","x":0.8,"y":18},{"d":"Ctz","t":"Mu","m":"M","x":2,"y":16.3},{"d":"Ctz","t":"Mu","m":"M","x":4,"y":10.5},{"d":"Ctz","t":"Mu","m":"M","x":6,"y":6.4},
{"d":"Ctz","t":"Mu","m":"B","x":0.05,"lo":3.5,"hi":17},{"d":"Ctz","t":"Mu","m":"B","x":0.2,"lo":6,"hi":20},{"d":"Ctz","t":"Mu","m":"B","x":1,"lo":4.5,"hi":13.5},{"d":"Ctz","t":"Mu","m":"B","x":6,"lo":0.43,"hi":1.7},

{"d":"Mer","t":"Mu","m":"R","x":0,"y":0.24},{"d":"Mer","t":"Mu","m":"R","x":0.1,"y":9},{"d":"Mer","t":"Mu","m":"R","x":0.25,"y":12.5},{"d":"Mer","t":"Mu","m":"R","x":1,"y":8.5},{"d":"Mer","t":"Mu","m":"R","x":3,"y":3},{"d":"Mer","t":"Mu","m":"R","x":6,"y":0.8},
{"d":"Mer","t":"Mu","m":"I","x":0,"y":0.24},{"d":"Mer","t":"Mu","m":"I","x":0.1,"y":8},{"d":"Mer","t":"Mu","m":"I","x":0.25,"y":10.5},{"d":"Mer","t":"Mu","m":"I","x":1,"y":6.8},{"d":"Mer","t":"Mu","m":"I","x":3,"y":2},{"d":"Mer","t":"Mu","m":"I","x":6,"y":0.38},
{"d":"Mer","t":"Mu","m":"P","x":0,"y":0.24},{"d":"Mer","t":"Mu","m":"P","x":0.1,"y":8},{"d":"Mer","t":"Mu","m":"P","x":0.3,"y":14},{"d":"Mer","t":"Mu","m":"P","x":0.7,"y":16.3},{"d":"Mer","t":"Mu","m":"P","x":1.5,"y":14.5},{"d":"Mer","t":"Mu","m":"P","x":3,"y":9.3},{"d":"Mer","t":"Mu","m":"P","x":6,"y":3.4},
{"d":"Mer","t":"Mu","m":"M","x":0,"y":0.24},{"d":"Mer","t":"Mu","m":"M","x":0.1,"y":8},{"d":"Mer","t":"Mu","m":"M","x":0.3,"y":14},{"d":"Mer","t":"Mu","m":"M","x":0.7,"y":16},{"d":"Mer","t":"Mu","m":"M","x":1.5,"y":14.2},{"d":"Mer","t":"Mu","m":"M","x":3,"y":9},{"d":"Mer","t":"Mu","m":"M","x":6,"y":3.2},
{"d":"Mer","t":"Mu","m":"B","x":0.05,"lo":3.5,"hi":20},{"d":"Mer","t":"Mu","m":"B","x":0.2,"lo":6.5,"hi":26},{"d":"Mer","t":"Mu","m":"B","x":1,"lo":4.8,"hi":16},{"d":"Mer","t":"Mu","m":"B","x":6,"lo":0.43,"hi":1.6}
]},
"vconcat":[
 {"vconcat":[
   {"data":{"values":[{"d":"Pip","n":"Piperacillin"},{"d":"Cfz","n":"Cefazolin"},{"d":"Cfx","n":"Cefuroxime"},{"d":"Ctz","n":"Ceftazidime"},{"d":"Mer","n":"Meropenem"}]},
    "width":1041,"height":43,"view":{"stroke":null},
    "encoding":{"x":{"field":"d","type":"nominal","sort":["Pip","Cfz","Cfx","Ctz","Mer"],"axis":null,"scale":{"paddingInner":0.06635,"paddingOuter":0}}},
    "layer":[
      {"mark":{"type":"rect","fill":"#d9d9d9","stroke":"#333333","strokeWidth":1}},
      {"mark":{"type":"text","fontSize":23,"color":"#1a1a1a"},"encoding":{"text":{"field":"n"}}}
    ]},
   {"hconcat":[
     {"data":{"name":"c"},"transform":[{"filter":"datum.t=='Pl'"}],
      "facet":{"column":{"field":"d","type":"nominal","sort":["Pip","Cfz","Cfx","Ctz","Mer"],"title":null,"header":{"labels":false}}},
      "spacing":12,
      "spec":{"width":197,"height":150,"layer":[
        {"transform":[{"filter":"datum.m=='B'"}],"mark":{"type":"area","color":"#e2e8f1"},
         "encoding":{"x":{"field":"x","type":"quantitative","title":null,"scale":{"domain":[-0.3,6.3],"nice":false,"zero":false},"axis":null},
                     "y":{"field":"hi","type":"quantitative","title":null,"scale":{"type":"log","domain":[0.086,980],"nice":false},"axis":{"values":[0.1,1,10,100],"format":"~g"}},
                     "y2":{"field":"lo"}}},
        {"transform":[{"filter":"datum.m!='B'"}],"mark":{"type":"line","strokeWidth":1.6},
         "encoding":{"x":{"field":"x","type":"quantitative","title":null,"axis":null},"y":{"field":"y","type":"quantitative","title":null},
                     "color":{"field":"m","type":"nominal","title":"Method","scale":{"domain":["P","S","M","R","I"],"range":["#c8372d","#1a3e6e","#e6861b","#1f72b8","#8a7ec0"]},"legend":{"labelExpr":"datum.label=='P'?'Poulin & Theil*':datum.label=='S'?'Rodgers & Rowland, scaled (x0.7)':datum.label=='M'?'Schmitt':datum.label=='R'?'Rodgers & Rowland':'Rodgers & Rowland + ion permeability'"}},
                     "strokeDash":{"field":"m","type":"nominal","title":"Method","scale":{"domain":["P","S","M","R","I"],"range":[[5,4],[10,5],[9,3,2,3],[1,0],[2,4,7,4]]},"legend":{"labelExpr":"datum.label=='P'?'Poulin & Theil*':datum.label=='S'?'Rodgers & Rowland, scaled (x0.7)':datum.label=='M'?'Schmitt':datum.label=='R'?'Rodgers & Rowland':'Rodgers & Rowland + ion permeability'"}}}}
      ]}},
     {"data":{"values":[{"t":"Plasma"}]},"width":37,"height":150,"view":{"stroke":null},
      "layer":[{"mark":{"type":"rect","fill":"#d9d9d9","stroke":"#333333","strokeWidth":1},"encoding":{}},{"mark":{"type":"text","angle":90,"fontSize":23,"color":"#1a1a1a"},"encoding":{"text":{"field":"t"}}}]}
   ],"spacing":0}
 ],"spacing":-2},
 {"vconcat":[
 {"hconcat":[
   {"data":{"name":"c"},"transform":[{"filter":"datum.t=='Ad'"}],
    "facet":{"column":{"field":"d","type":"nominal","sort":["Pip","Cfz","Cfx","Ctz","Mer"],"title":null,"header":{"labels":false}}},
    "spacing":12,
    "spec":{"width":197,"height":150,"layer":[
      {"transform":[{"filter":"datum.m=='B'"}],"mark":{"type":"area","color":"#e2e8f1"},
       "encoding":{"x":{"field":"x","type":"quantitative","title":null,"scale":{"domain":[-0.3,6.3],"nice":false,"zero":false},"axis":null},
                   "y":{"field":"hi","type":"quantitative","title":null,"scale":{"type":"log","domain":[0.0106,20],"nice":false},"axis":{"values":[0.1,1,10],"format":"~g"}},
                   "y2":{"field":"lo"}}},
      {"transform":[{"filter":"datum.m!='B'"}],"mark":{"type":"line","strokeWidth":1.6},
       "encoding":{"x":{"field":"x","type":"quantitative","title":null,"axis":null},"y":{"field":"y","type":"quantitative","title":null},
                   "color":{"field":"m","type":"nominal","title":"Method","scale":{"domain":["P","S","M","R","I"],"range":["#c8372d","#1a3e6e","#e6861b","#1f72b8","#8a7ec0"]},"legend":{"labelExpr":"datum.label=='P'?'Poulin & Theil*':datum.label=='S'?'Rodgers & Rowland, scaled (x0.7)':datum.label=='M'?'Schmitt':datum.label=='R'?'Rodgers & Rowland':'Rodgers & Rowland + ion permeability'"}},
                   "strokeDash":{"field":"m","type":"nominal","title":"Method","scale":{"domain":["P","S","M","R","I"],"range":[[5,4],[10,5],[9,3,2,3],[1,0],[2,4,7,4]]},"legend":{"labelExpr":"datum.label=='P'?'Poulin & Theil*':datum.label=='S'?'Rodgers & Rowland, scaled (x0.7)':datum.label=='M'?'Schmitt':datum.label=='R'?'Rodgers & Rowland':'Rodgers & Rowland + ion permeability'"}}}}
    ]}},
   {"data":{"values":[{"t":"Adipose"}]},"width":37,"height":150,"view":{"stroke":null},
    "layer":[{"mark":{"type":"rect","fill":"#d9d9d9","stroke":"#333333","strokeWidth":1},"encoding":{}},{"mark":{"type":"text","angle":90,"fontSize":23,"color":"#1a1a1a"},"encoding":{"text":{"field":"t"}}}]}
 ],"spacing":0},
 {"hconcat":[
   {"data":{"name":"c"},"transform":[{"filter":"datum.t=='Bo'"}],
    "facet":{"column":{"field":"d","type":"nominal","sort":["Pip","Cfz","Cfx","Ctz","Mer"],"title":null,"header":{"labels":false}}},
    "spacing":12,
    "spec":{"width":197,"height":150,"layer":[
      {"transform":[{"filter":"datum.m=='B'"}],"mark":{"type":"area","color":"#e2e8f1"},
       "encoding":{"x":{"field":"x","type":"quantitative","title":null,"scale":{"domain":[-0.3,6.3],"nice":false,"zero":false},"axis":null},
                   "y":{"field":"hi","type":"quantitative","title":null,"scale":{"type":"log","domain":[0.0153,46],"nice":false},"axis":{"values":[0.1,1,10],"format":"~g"}},
                   "y2":{"field":"lo"}}},
      {"transform":[{"filter":"datum.m!='B'"}],"mark":{"type":"line","strokeWidth":1.6},
       "encoding":{"x":{"field":"x","type":"quantitative","title":null,"axis":null},"y":{"field":"y","type":"quantitative","title":null},
                   "color":{"field":"m","type":"nominal","title":"Method","scale":{"domain":["P","S","M","R","I"],"range":["#c8372d","#1a3e6e","#e6861b","#1f72b8","#8a7ec0"]},"legend":{"labelExpr":"datum.label=='P'?'Poulin & Theil*':datum.label=='S'?'Rodgers & Rowland, scaled (x0.7)':datum.label=='M'?'Schmitt':datum.label=='R'?'Rodgers & Rowland':'Rodgers & Rowland + ion permeability'"}},
                   "strokeDash":{"field":"m","type":"nominal","title":"Method","scale":{"domain":["P","S","M","R","I"],"range":[[5,4],[10,5],[9,3,2,3],[1,0],[2,4,7,4]]},"legend":{"labelExpr":"datum.label=='P'?'Poulin & Theil*':datum.label=='S'?'Rodgers & Rowland, scaled (x0.7)':datum.label=='M'?'Schmitt':datum.label=='R'?'Rodgers & Rowland':'Rodgers & Rowland + ion permeability'"}}}}
    ]}},
   {"data":{"values":[{"t":"Bone"}]},"width":37,"height":150,"view":{"stroke":null},
    "layer":[{"mark":{"type":"rect","fill":"#d9d9d9","stroke":"#333333","strokeWidth":1},"encoding":{}},{"mark":{"type":"text","angle":90,"fontSize":23,"color":"#1a1a1a"},"encoding":{"text":{"field":"t"}}}]}
 ],"spacing":0},
 {"hconcat":[
   {"data":{"name":"c"},"transform":[{"filter":"datum.t=='Mu'"}],
    "facet":{"column":{"field":"d","type":"nominal","sort":["Pip","Cfz","Cfx","Ctz","Mer"],"title":"Time (h)","header":{"labels":false,"titleOrient":"bottom","titleFontSize":30,"titleFontWeight":"normal","titleColor":"#000000","titlePadding":-4}}},
    "spacing":12,
    "spec":{"width":197,"height":150,"layer":[
      {"transform":[{"filter":"datum.m=='B'"}],"mark":{"type":"area","color":"#e2e8f1"},
       "encoding":{"x":{"field":"x","type":"quantitative","title":null,"scale":{"domain":[-0.3,6.3],"nice":false,"zero":false},"axis":{"values":[0,3,6],"format":"d"}},
                   "y":{"field":"hi","type":"quantitative","title":null,"scale":{"type":"log","domain":[0.0206,37],"nice":false},"axis":{"values":[0.1,1,10],"format":"~g"}},
                   "y2":{"field":"lo"}}},
      {"transform":[{"filter":"datum.m!='B'"}],"mark":{"type":"line","strokeWidth":1.6},
       "encoding":{"x":{"field":"x","type":"quantitative","title":null},"y":{"field":"y","type":"quantitative","title":null},
                   "color":{"field":"m","type":"nominal","title":"Method","scale":{"domain":["P","S","M","R","I"],"range":["#c8372d","#1a3e6e","#e6861b","#1f72b8","#8a7ec0"]},"legend":{"labelExpr":"datum.label=='P'?'Poulin & Theil*':datum.label=='S'?'Rodgers & Rowland, scaled (x0.7)':datum.label=='M'?'Schmitt':datum.label=='R'?'Rodgers & Rowland':'Rodgers & Rowland + ion permeability'"}},
                   "strokeDash":{"field":"m","type":"nominal","title":"Method","scale":{"domain":["P","S","M","R","I"],"range":[[5,4],[10,5],[9,3,2,3],[1,0],[2,4,7,4]]},"legend":{"labelExpr":"datum.label=='P'?'Poulin & Theil*':datum.label=='S'?'Rodgers & Rowland, scaled (x0.7)':datum.label=='M'?'Schmitt':datum.label=='R'?'Rodgers & Rowland':'Rodgers & Rowland + ion permeability'"}}}}
    ]}},
   {"data":{"values":[{"t":"Muscle"}]},"width":37,"height":150,"view":{"stroke":null},
    "layer":[{"mark":{"type":"rect","fill":"#d9d9d9","stroke":"#333333","strokeWidth":1},"encoding":{}},{"mark":{"type":"text","angle":90,"fontSize":23,"color":"#1a1a1a"},"encoding":{"text":{"field":"t"}}}]}
 ],"spacing":0}
 ],"spacing":9}
],
"spacing":0
}
